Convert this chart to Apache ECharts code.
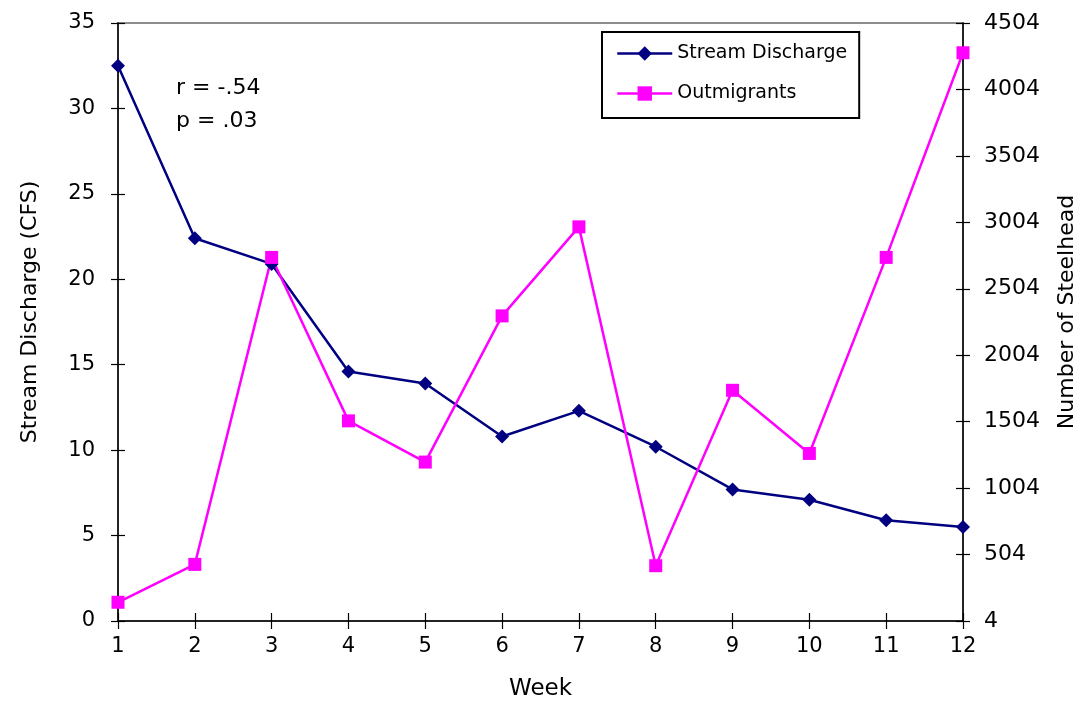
<!DOCTYPE html>
<html>
<head>
<meta charset="utf-8">
<script src="https://cdn.jsdelivr.net/npm/echarts@6/dist/echarts.min.js"></script>
<style>
  html, body { margin: 0; padding: 0; background: #fff; }
  #chart { width: 1082px; height: 707px; }
</style>
</head>
<body>
<div id="chart"></div>
<script>
// Weekly stream discharge vs. steelhead outmigrant counts
const weeks = ['1', '2', '3', '4', '5', '6', '7', '8', '9', '10', '11', '12'];
const discharge = [32.5, 22.4, 20.9, 14.6, 13.9, 10.8, 12.3, 10.2, 7.7, 7.1, 5.9, 5.5];
const outmigrants = [145, 430, 2740, 1510, 1200, 2300, 2970, 420, 1740, 1265, 2740, 4280];
const statsLines = ['r = -.54', 'p = .03'];

const FONT = '"DejaVu Sans", "Liberation Sans", Arial, sans-serif';
const txt = { fontFamily: FONT, fontSize: 21, color: '#000' };

const chart = echarts.init(document.getElementById('chart'), null, { renderer: 'canvas' });

// Ticks cross the axis lines: each axis is paired with a twin that carries the inner half of the ticks.
const leftBase = { type: 'value', position: 'left', min: 0, max: 35, interval: 5 };
const rightBase = { type: 'value', position: 'right', min: 4, max: 4504, interval: 500 };
const axisLine = { show: true, onZero: false, lineStyle: { color: '#000', width: 1.5 } };
const tickStyle = { color: '#000', width: 1.2 };

chart.setOption({
  animation: false,
  backgroundColor: '#fff',
  grid: {
    left: 118, right: 119, top: 23, bottom: 86,
    outerBoundsMode: 'none', containLabel: false,
    show: true, borderColor: '#8c8c8c', borderWidth: 2
  },
  legend: {
    orient: 'vertical',
    left: 602, top: 32,
    padding: [12, 12, 15, 14],
    itemGap: 21,
    itemWidth: 55, itemHeight: 18,
    borderColor: '#000', borderWidth: 2,
    backgroundColor: '#fff',
    lineStyle: { width: 2.5 },
    textStyle: Object.assign({}, txt, { fontSize: 19 }),
    data: ['Stream Discharge', 'Outmigrants']
  },
  xAxis: [
    {
      type: 'category', data: weeks, boundaryGap: false,
      name: 'Week', nameLocation: 'middle', nameGap: 57,
      nameTextStyle: Object.assign({}, txt, { fontSize: 23 }),
      axisLine: axisLine,
      axisTick: { show: true, inside: false, length: 8, lineStyle: tickStyle },
      axisLabel: Object.assign({ margin: 15 }, txt),
      splitLine: { show: false }
    },
    {
      type: 'category', data: weeks, boundaryGap: false, position: 'bottom',
      axisLine: { show: false },
      axisTick: { show: true, inside: true, length: 8, lineStyle: tickStyle },
      axisLabel: { show: false },
      splitLine: { show: false }
    }
  ],
  yAxis: [
    Object.assign({}, leftBase, {
      name: 'Stream Discharge (CFS)', nameLocation: 'middle', nameGap: 77, nameRotate: 90,
      nameTextStyle: Object.assign({ padding: [0, 0, 0, 20] }, txt, { fontSize: 22 }),
      axisLine: axisLine,
      axisTick: { show: true, inside: false, length: 7, lineStyle: tickStyle },
      axisLabel: Object.assign({ margin: 23 }, txt),
      splitLine: { show: false }
    }),
    Object.assign({}, rightBase, {
      name: 'Number of Steelhead', nameLocation: 'middle', nameGap: 93, nameRotate: 90,
      nameTextStyle: Object.assign({ padding: [0, 0, 0, 20] }, txt, { fontSize: 22 }),
      axisLine: axisLine,
      axisTick: { show: true, inside: false, length: 7, lineStyle: tickStyle },
      axisLabel: Object.assign({ margin: 21, formatter: v => String(v) }, txt, { fontSize: 22 }),
      splitLine: { show: false }
    }),
    Object.assign({}, leftBase, {
      axisLine: { show: false },
      axisTick: { show: true, inside: true, length: 7, lineStyle: tickStyle },
      axisLabel: { show: false },
      splitLine: { show: false }
    }),
    Object.assign({}, rightBase, {
      axisLine: { show: false },
      axisTick: { show: true, inside: true, length: 7, lineStyle: tickStyle },
      axisLabel: { show: false },
      splitLine: { show: false }
    })
  ],
  graphic: statsLines.map((t, i) => ({
    type: 'text',
    left: 176, top: 77 + i * 33,
    style: { text: t, font: '22px ' + FONT, fill: '#000' }
  })),
  series: [
    {
      name: 'Stream Discharge', type: 'line', xAxisIndex: 0, yAxisIndex: 0,
      data: discharge,
      symbol: 'diamond', symbolSize: 14,
      lineStyle: { color: '#000080', width: 2.5 },
      itemStyle: { color: '#000080' }
    },
    {
      name: 'Outmigrants', type: 'line', xAxisIndex: 0, yAxisIndex: 1,
      data: outmigrants,
      symbol: 'rect', symbolSize: 13,
      lineStyle: { color: '#ff00ff', width: 2.5 },
      itemStyle: { color: '#ff00ff' }
    }
  ]
});
</script>
</body>
</html>
